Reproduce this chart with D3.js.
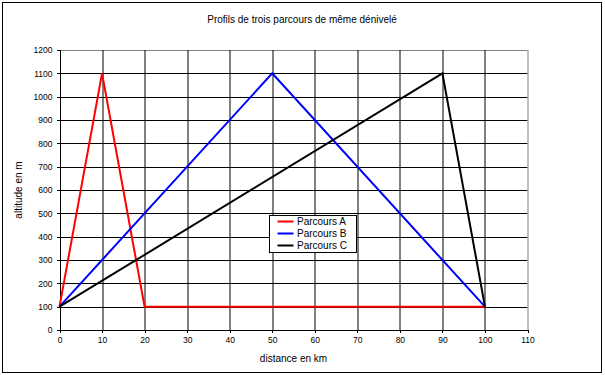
<!DOCTYPE html>
<html>
<head>
<meta charset="utf-8">
<script src="https://cdn.jsdelivr.net/npm/d3@7"></script>
<style>
  body { margin: 0; background: #fff; }
  svg text { font-family: "Liberation Sans", Arial, sans-serif; fill: #000; }
</style>
</head>
<body>
<svg width="605" height="375"></svg>
<script>
  // data
  var xTicks = [0, 10, 20, 30, 40, 50, 60, 70, 80, 90, 100, 110];
  var yTicks = [0, 100, 200, 300, 400, 500, 600, 700, 800, 900, 1000, 1100, 1200];
  var seriesNames = ["Parcours A", "Parcours B", "Parcours C"];
  var seriesColors = ["#ff0000", "#0000ff", "#000000"];
  var distA = [0, 10, 20, 100];
  var altA = [100, 1100, 100, 100];
  var distB = [0, 50, 100];
  var altB = [100, 1100, 100];
  var distC = [0, 90, 100];
  var altC = [100, 1100, 100];

  var svg = d3.select("svg");
  var width = +svg.attr("width");
  var height = +svg.attr("height");

  var margin = { top: 50, right: 77.5, bottom: 45, left: 59.5 };
  var innerWidth = width - margin.left - margin.right;
  var innerHeight = height - margin.top - margin.bottom;

  // outer frame
  svg.append("rect")
    .attr("x", 2.5).attr("y", 2.5)
    .attr("width", 599).attr("height", 370)
    .attr("fill", "#fff").attr("stroke", "#000").attr("stroke-width", 1);

  var xScale = d3.scaleLinear().domain([0, 110]).range([0, innerWidth]);
  var yScale = d3.scaleLinear().domain([0, 1200]).range([innerHeight, 0]);

  var g = svg.append("g")
    .attr("transform", "translate(" + margin.left + "," + margin.top + ")");

  // grid
  g.selectAll(".hgrid")
    .data(yTicks.slice(1))
    .enter().append("line")
    .attr("x1", 0).attr("x2", innerWidth)
    .attr("y1", function (d) { return Math.round(yScale(d)) + 0.5; })
    .attr("y2", function (d) { return Math.round(yScale(d)) + 0.5; })
    .attr("stroke", function (d) { return d === 1200 ? "#808080" : "#000"; });

  g.selectAll(".vgrid")
    .data(xTicks.slice(1))
    .enter().append("line")
    .attr("y1", 0).attr("y2", innerHeight)
    .attr("x1", function (d) { return Math.round(xScale(d)) + 0.5; })
    .attr("x2", function (d) { return Math.round(xScale(d)) + 0.5; })
    .attr("stroke", function (d) { return d === 110 ? "#808080" : "#000"; });

  // axes
  var xAxis = d3.axisBottom(xScale).tickValues(xTicks).tickFormat(d3.format("d")).tickSize(3).tickPadding(4);
  var yAxis = d3.axisLeft(yScale).tickValues(yTicks).tickFormat(d3.format("d")).tickSize(3).tickPadding(4);

  var xAxisGroup = g.append("g")
    .attr("transform", "translate(0," + innerHeight + ")")
    .call(xAxis);
  var yAxisGroup = g.append("g").call(yAxis);

  [xAxisGroup, yAxisGroup].forEach(function (ax) {
    ax.attr("font-size", "8.5px").attr("font-family", "Liberation Sans, Arial, sans-serif");
    ax.selectAll("path").attr("stroke", "#000").attr("shape-rendering", "crispEdges");
    ax.selectAll("line").attr("stroke", "#000").attr("shape-rendering", "crispEdges");
    ax.selectAll("text").attr("fill", "#000");
  });
  xAxisGroup.select(".domain").attr("d", "M0.5,0.5H" + innerWidth);
  yAxisGroup.select(".domain").attr("d", "M0.5,0V" + innerHeight);

  // lines
  var line = d3.line()
    .x(function (d) { return xScale(d[0]); })
    .y(function (d) { return yScale(d[1]); });

  var series = [d3.zip(distA, altA), d3.zip(distB, altB), d3.zip(distC, altC)];

  g.selectAll(".serie")
    .data(series)
    .enter().append("path")
    .attr("d", line)
    .attr("fill", "none")
    .attr("stroke", function (d, i) { return seriesColors[i]; })
    .attr("stroke-width", 2)
    .attr("stroke-linejoin", "miter");

  // title
  svg.append("text")
    .text("Profils de trois parcours de même dénivelé")
    .attr("x", 302).attr("y", 23)
    .attr("text-anchor", "middle")
    .attr("font-size", "10px");

  // axis labels
  svg.append("text")
    .text("distance en km")
    .attr("x", margin.left + innerWidth / 2).attr("y", 361.5)
    .attr("text-anchor", "middle")
    .attr("font-size", "10px");

  svg.append("text")
    .text("altitude en m")
    .attr("transform", "translate(22," + (margin.top + innerHeight / 2) + ") rotate(-90)")
    .attr("text-anchor", "middle")
    .attr("font-size", "10px");

  // legend
  var legend = svg.append("g").attr("transform", "translate(269.5,215.5)");
  legend.append("rect")
    .attr("width", 87).attr("height", 37)
    .attr("fill", "#fff").attr("stroke", "#000");

  var items = legend.selectAll(".item")
    .data(seriesNames)
    .enter().append("g")
    .attr("transform", function (d, i) { return "translate(0," + (6 + i * 12) + ")"; });

  items.append("line")
    .attr("x1", 8).attr("x2", 24)
    .attr("stroke", function (d, i) { return seriesColors[i]; })
    .attr("stroke-width", 2);

  items.append("text")
    .text(function (d) { return d; })
    .attr("x", 27.5).attr("y", 3.5)
    .attr("font-size", "10px");
</script>
</body>
</html>
